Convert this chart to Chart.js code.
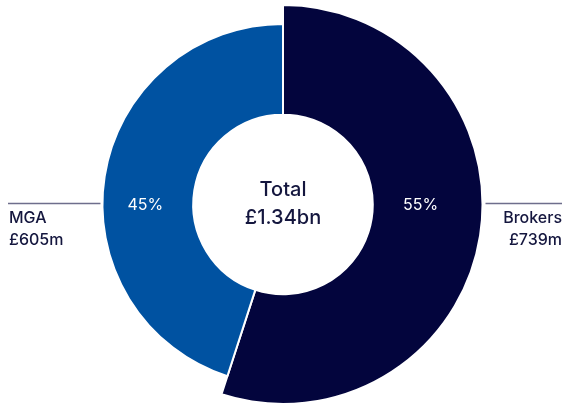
<!DOCTYPE html>
<html>
<head>
<meta charset="utf-8">
<script src="https://cdn.jsdelivr.net/npm/chart.js@4"></script>
<style>
  html, body { margin: 0; padding: 0; background: #ffffff; }
  #wrap { width: 570px; height: 405px; position: relative; }
</style>
</head>
<body>
<div id="wrap"><canvas id="c" width="570" height="405"></canvas></div>
<script>
// ---- data ----
const categories = ['Brokers', 'MGA'];
const values = [739, 605];              // £m
const valueLabels = ['£739m', '£605m'];
const percentLabels = ['55%', '45%'];
const totalLabel = ['Total', '£1.34bn'];

// ---- styling ----
const colors = ['#03053d', '#0052a1'];
const radiusScale = [1, 0.905];          // per-slice outer radius factor
const textColor = '#14163e';
const lineColor = '#6e6e8c';
const FONT = 'Inter, "Open Sans", sans-serif';

const radiusPlugin = {
  id: 'radiusPlugin',
  afterDatasetsUpdate(chart) {
    const meta = chart.getDatasetMeta(0);
    meta.data.forEach((arc, i) => {
      arc.outerRadius = arc.outerRadius * radiusScale[i];
    });
  }
};

const labelPlugin = {
  id: 'labelPlugin',
  afterDatasetsDraw(chart) {
    const ctx = chart.ctx;
    const meta = chart.getDatasetMeta(0);
    const a0 = meta.data[0], a1 = meta.data[1];
    const cx = a0.x, cy = a0.y;
    const maxR = a0.outerRadius;
    ctx.save();
    // percent labels
    ctx.fillStyle = '#ffffff';
    ctx.font = '16px ' + FONT;
    ctx.textAlign = 'center';
    ctx.textBaseline = 'middle';
    ctx.fillText(percentLabels[0], cx + maxR * 0.69, cy + 1);
    ctx.fillText(percentLabels[1], cx - maxR * 0.69, cy + 1);
    // total
    ctx.fillStyle = textColor;
    ctx.font = '500 20px ' + FONT;
    ctx.fillText(totalLabel[0], cx, cy - 15);
    ctx.fillText(totalLabel[1], cx, cy + 13);
    // leader lines
    ctx.strokeStyle = lineColor;
    ctx.lineWidth = 1.5;
    ctx.beginPath();
    ctx.moveTo(cx + a0.outerRadius + 3, cy - 1);
    ctx.lineTo(562, cy - 1);
    ctx.moveTo(8, cy - 1);
    ctx.lineTo(cx - a1.outerRadius - 2, cy - 1);
    ctx.stroke();
    // category labels
    ctx.font = '500 16px ' + FONT;
    ctx.textAlign = 'right';
    ctx.fillText(categories[0], 562, cy + 14);
    ctx.fillText(valueLabels[0], 562, cy + 36);
    ctx.textAlign = 'left';
    ctx.fillText(categories[1], 9, cy + 14);
    ctx.fillText(valueLabels[1], 9, cy + 36);
    ctx.restore();
  }
};

new Chart(document.getElementById('c'), {
  type: 'doughnut',
  data: {
    labels: categories,
    datasets: [{
      data: values,
      backgroundColor: colors,
      borderColor: '#ffffff',
      borderWidth: 2,
      hoverOffset: 0
    }]
  },
  options: {
    responsive: false,
    animation: false,
    cutout: '45%',
    layout: { padding: { top: 4, bottom: 0, left: 82, right: 86 } },
    plugins: { legend: { display: false }, tooltip: { enabled: false } }
  },
  plugins: [radiusPlugin, labelPlugin]
});
</script>
</body>
</html>
